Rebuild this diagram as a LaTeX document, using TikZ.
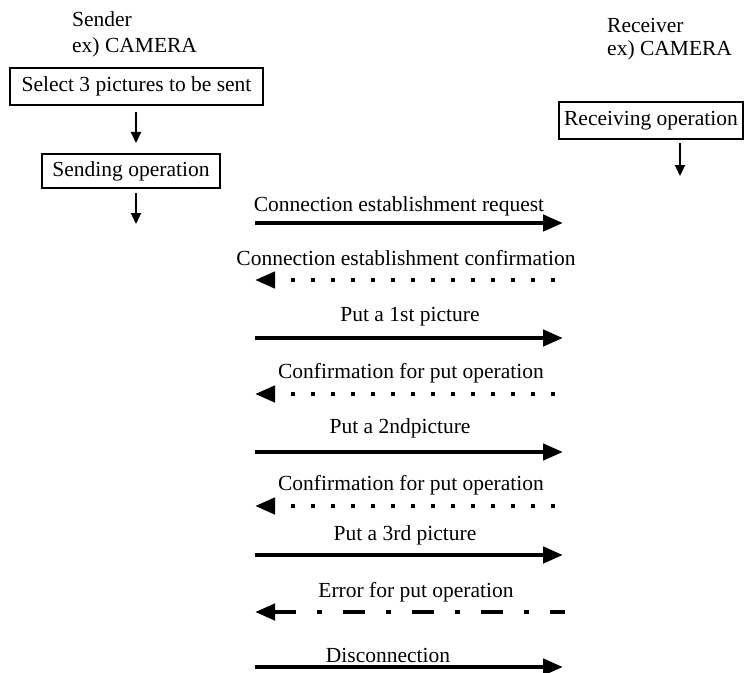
\documentclass[tikz,border=0pt]{standalone}
\usepackage{fontspec}
\setmainfont{Liberation Serif}
\usetikzlibrary{arrows.meta}
\begin{document}
\begin{tikzpicture}[x=1bp,y=-1bp,
  every node/.style={font=\fontsize{21.5bp}{25bp}\selectfont, inner sep=0pt},
  opbox/.style={draw, line width=1.2bp},
  lbl/.style={anchor=base},
  side/.style={anchor=base west},
  flow/.style={line width=2bp, -{Triangle[length=11bp,width=10bp]}},
  msg/.style={line width=4.5bp, -{Triangle[length=20bp,width=16bp]}},
  reply/.style={msg, dash pattern=on 4.5bp off 15.5bp},
  errmsg/.style={msg, dash pattern=on 22bp off 21bp on 5bp off 21bp, dash phase=7bp}]
\useasboundingbox (0,0) rectangle (745,673);
% sender side
\node[side] (snd) at (72,27) {Sender};
\node[side] (sndex) at (72,53) {ex) CAMERA};
\node[opbox, minimum width=253bp, minimum height=37bp] (sel) at (136.5,86.5) {Select 3 pictures to be sent};
\node[opbox, minimum width=178bp, minimum height=34bp] (sop) at (131,171) {Sending operation};
\coordinate (a1s) at (136,112);
\coordinate (a1e) at (136,143);
\coordinate (a2s) at (136,193);
\coordinate (a2e) at (136,224);
\draw[flow] (a1s) -- (a1e);
\draw[flow] (a2s) -- (a2e);
% receiver side
\node[side] (rcv) at (607,33) {Receiver};
\node[side] (rcvex) at (607,56) {ex) CAMERA};
\node[opbox, minimum width=184bp, minimum height=37bp] (rop) at (651,120.5) {Receiving operation};
\coordinate (a3s) at (680,143);
\coordinate (a3e) at (680,176);
\draw[flow] (a3s) -- (a3e);
% messages
\node[lbl] (t1) at (399,211) {Connection establishment request};
\coordinate (l1) at (255,223); \coordinate (r1) at (563,223);
\draw[msg] (l1) -- (r1);
\node[lbl] (t2) at (406,265) {Connection establishment confirmation};
\coordinate (l2) at (255,280); \coordinate (r2) at (555,280);
\draw[reply] (r2) -- (l2);
\node[lbl] (t3) at (410,321) {Put a 1st picture};
\coordinate (l3) at (255,338); \coordinate (r3) at (563,338);
\draw[msg] (l3) -- (r3);
\node[lbl] (t4) at (411,378) {Confirmation for put operation};
\coordinate (l4) at (255,394); \coordinate (r4) at (555,394);
\draw[reply] (r4) -- (l4);
\node[lbl] (t5) at (400,433) {Put a 2ndpicture};
\coordinate (l5) at (255,452); \coordinate (r5) at (563,452);
\draw[msg] (l5) -- (r5);
\node[lbl] (t6) at (411,490) {Confirmation for put operation};
\coordinate (l6) at (255,506); \coordinate (r6) at (555,506);
\draw[reply] (r6) -- (l6);
\node[lbl] (t7) at (405,540) {Put a 3rd picture};
\coordinate (l7) at (255,555); \coordinate (r7) at (563,555);
\draw[msg] (l7) -- (r7);
\node[lbl] (t8) at (416,597) {Error for put operation};
\coordinate (l8) at (255,612); \coordinate (r8) at (565,612);
\draw[errmsg] (r8) -- (l8);
\node[lbl] (t9) at (388,662) {Disconnection};
\coordinate (l9) at (255,667); \coordinate (r9) at (563,667);
\draw[msg] (l9) -- (r9);
\end{tikzpicture}
\end{document}
